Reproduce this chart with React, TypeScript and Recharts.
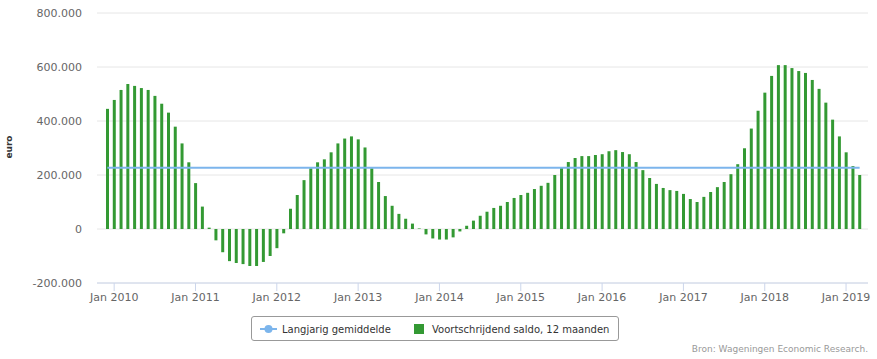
import React from 'react';
import { ComposedChart, Bar, Line, XAxis, YAxis, CartesianGrid } from 'recharts';

// Voortschrijdend saldo, 12 maanden (euro), dec 2009 t/m mrt 2019
const saldo = [
  445000, 478000, 515000, 537000, 530000, 522000, 515000, 493000, 464000, 431000, 379000, 317000,
  247000, 170000, 83000, 5000, -42000, -86000, -119000, -126000, -130000, -137000, -137000, -122000,
  -100000, -71000, -16000, 75000, 126000, 181000, 225000, 247000, 258000, 284000, 317000, 335000,
  343000, 332000, 302000, 225000, 174000, 122000, 86000, 56000, 38000, 20000, 2000, -20000,
  -35000, -39000, -39000, -31000, -9000, 12000, 31000, 49000, 64000, 78000, 86000, 100000,
  115000, 126000, 134000, 148000, 160000, 171000, 200000, 226000, 248000, 263000, 270000, 270000,
  274000, 277000, 288000, 292000, 285000, 277000, 248000, 218000, 189000, 167000, 152000, 144000,
  141000, 130000, 111000, 100000, 119000, 137000, 155000, 174000, 203000, 240000, 299000, 372000,
  438000, 505000, 567000, 607000, 607000, 596000, 585000, 578000, 552000, 519000, 468000, 405000,
  343000, 284000, 233000, 200000,
];

const langjarigGemiddelde = 227000;

const startYear = 2009;
const startMonth = 11; // december

const months = saldo.map((_, i) => {
  const m = startMonth + i;
  const y = startYear + Math.floor(m / 12);
  return `${y}-${String((m % 12) + 1).padStart(2, '0')}`;
});

const xTicks = ['2010-01', '2011-01', '2012-01', '2013-01', '2014-01', '2015-01', '2016-01', '2017-01', '2018-01', '2019-01'];
const yTicks = [-200000, 0, 200000, 400000, 600000, 800000];

const data = months.map((month, i) => ({
  month,
  saldo: saldo[i],
  gemiddelde: langjarigGemiddelde,
}));

const fmtEuro = (v: number) => String(v).replace(/\B(?=(\d{3})+(?!\d))/g, '.');
const fmtMonth = (m: string) => `Jan ${m.slice(0, 4)}`;

const FONT = '"DejaVu Sans", Verdana, sans-serif';
const GREEN = '#339933';
const BLUE = '#7cb5ec';

export default function App() {
  return (
    <div
      style={{
        position: 'absolute',
        left: 0,
        top: 0,
        width: 877,
        height: 359,
        background: '#fff',
        fontFamily: FONT,
      }}
    >
      <ComposedChart width={877} height={359} data={data} margin={{ top: 13, right: 9, bottom: 46, left: 0 }}>
        <CartesianGrid horizontal vertical={false} stroke="#e6e6e6" />
        <XAxis
          dataKey="month"
          ticks={xTicks}
          interval={0}
          tickFormatter={fmtMonth}
          height={30}
          padding={{ left: 7, right: 5 }}
          stroke="#ccd6eb"
          tickSize={8}
          tickMargin={2}
          tick={{ fontSize: 11, fill: '#666666', fontFamily: FONT }}
        />
        <YAxis
          domain={[-200000, 800000]}
          ticks={yTicks}
          tickFormatter={fmtEuro}
          width={97}
          axisLine={false}
          tickLine={false}
          tickMargin={9}
          tick={{ fontSize: 11, fill: '#666666', fontFamily: FONT }}
        />
        <Bar dataKey="saldo" fill={GREEN} barSize={3} isAnimationActive={false} />
        <Line
          dataKey="gemiddelde"
          stroke={BLUE}
          strokeWidth={2}
          dot={false}
          type="linear"
          isAnimationActive={false}
        />
      </ComposedChart>

      <svg width={20} height={40} style={{ position: 'absolute', left: 0, top: 127 }}>
        <text
          x={12}
          y={20}
          transform="rotate(-90 12 20)"
          textAnchor="middle"
          fontFamily={FONT}
          fontSize={9}
          fontWeight="bold"
          fill="#333333"
        >
          euro
        </text>
      </svg>

      <div
        style={{
          position: 'absolute',
          left: 251,
          top: 316,
          width: 368,
          height: 25,
          border: '1px solid #999999',
          borderRadius: 3,
          boxSizing: 'border-box',
        }}
      />
      <svg width={877} height={49} style={{ position: 'absolute', left: 0, top: 310 }}>
        <line x1={260} y1={19} x2={277} y2={19} stroke={BLUE} strokeWidth={2} />
        <circle cx={268.5} cy={19} r={4} fill={BLUE} />
        <text x={282} y={23} fontFamily={FONT} fontSize={10} fill="#333333">
          Langjarig gemiddelde
        </text>
        <rect x={414} y={14} width={10} height={10} fill={GREEN} />
        <text x={432} y={23} fontFamily={FONT} fontSize={10} fill="#333333">
          Voortschrijdend saldo, 12 maanden
        </text>
        <text x={868} y={42} textAnchor="end" fontFamily={FONT} fontSize={9} fill="#999999">
          Bron: Wageningen Economic Research.
        </text>
      </svg>
    </div>
  );
}
